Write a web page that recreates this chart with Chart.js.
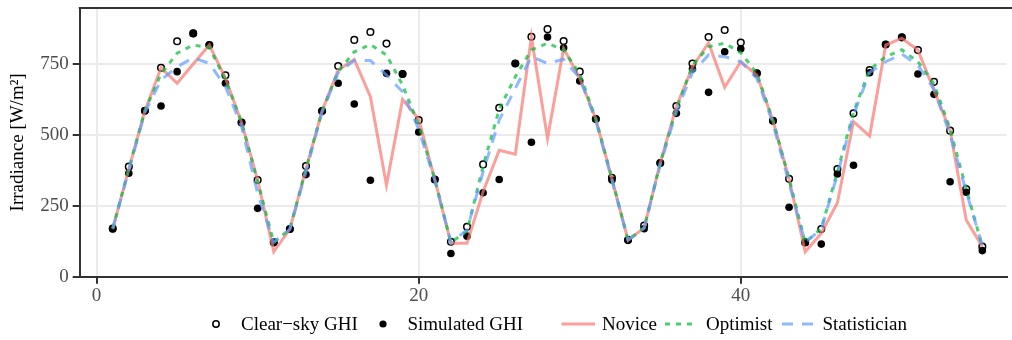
<!DOCTYPE html>
<html>
<head>
<meta charset="utf-8">
<script src="https://cdn.jsdelivr.net/npm/chart.js@4.4.1/dist/chart.umd.min.js"></script>
<style>
  html, body { margin: 0; padding: 0; background: #fff; overflow: hidden; }
  #wrap { position: relative; width: 1012px; height: 340px; }
  #chart { position: absolute; left: 0; top: 0; }
  .leg { position: absolute; font-family: "Liberation Serif", "Times New Roman", serif; font-size: 19px; color: #000; line-height: 22px; white-space: nowrap; }
  .key { position: absolute; }
</style>
</head>
<body>
<div id="wrap">
  <canvas id="chart" width="1012" height="340"></canvas>
  <svg class="key" style="left:210px;top:318px" width="12" height="12"><circle cx="6" cy="6" r="3.2" fill="none" stroke="#000" stroke-width="1.5"/></svg>
  <div class="leg" style="left:241px;top:313px">Clear−sky GHI</div>
  <svg class="key" style="left:377px;top:318px" width="12" height="12"><circle cx="6" cy="6" r="3.6" fill="#000"/></svg>
  <div class="leg" style="left:407.5px;top:313px">Simulated GHI</div>
  <svg class="key" style="left:561px;top:318px" width="36" height="12"><line x1="0.5" y1="6" x2="34" y2="6" stroke="rgba(248,118,109,0.7)" stroke-width="3"/></svg>
  <div class="leg" style="left:602px;top:313px">Novice</div>
  <svg class="key" style="left:665px;top:318px" width="36" height="12"><line x1="0" y1="6" x2="33" y2="6" stroke="rgba(0,186,56,0.7)" stroke-width="3" stroke-dasharray="5,6"/></svg>
  <div class="leg" style="left:706px;top:313px">Optimist</div>
  <svg class="key" style="left:781.5px;top:318px" width="36" height="12"><line x1="0" y1="6" x2="32" y2="6" stroke="rgba(97,156,255,0.7)" stroke-width="3" stroke-dasharray="11,9"/></svg>
  <div class="leg" style="left:822.5px;top:313px">Statistician</div>
</div>
<script>
// ---- data ----
const steps = [1,2,3,4,5,6,7,8,9,10,11,12,13,14,15,16,17,18,19,20,21,22,23,24,25,26,27,28,29,30,31,32,33,34,35,36,37,38,39,40,41,42,43,44,45,46,47,48,49,50,51,52,53,54,55];
const clearSky = [170,388,585,737,830,858,817,710,544,341,121,
                  168,390,584,743,835,863,822,715,552,343,123,
                  176,396,596,752,846,873,831,723,556,349,129,
                  180,401,602,752,845,870,826,717,550,345,121,
                  168,380,576,729,819,844,799,687,515,309,106];
const simulated = [168,365,585,602,723,858,817,682,544,241,121,
                   168,360,584,682,609,340,717,715,510,343,82,
                   143,296,343,752,474,845,807,690,556,341,129,
                   169,401,576,732,650,793,804,717,550,245,121,
                   115,362,393,719,819,844,715,643,335,298,92];
const novice = [168,380,585,737,682,750,817,700,544,341,88,
                168,380,584,729,766,635,323,625,556,343,118,
                118,300,446,432,845,488,805,700,556,345,129,
                172,401,600,740,825,668,758,711,550,345,88,
                153,261,547,496,817,841,799,658,515,200,106];
const optimist = [170,380,585,715,788,817,808,695,545,335,121,
                  168,380,584,723,793,819,782,676,535,343,121,
                  160,390,590,705,800,823,800,715,556,345,129,
                  172,401,590,745,811,823,790,717,550,345,121,
                  170,370,580,730,776,800,758,680,520,310,106];
const statistician = [170,375,580,693,740,772,752,670,530,294,121,
                      168,370,580,720,762,762,711,652,520,340,121,
                      165,370,552,664,776,752,767,700,550,340,129,
                      172,395,580,720,782,776,758,700,540,330,121,
                      168,360,570,720,758,785,746,660,500,300,110];
const xTicks = [0, 20, 40];
const yTicks = [0, 250, 500, 750];
const yTitle = 'Irradiance [W/m²]';

// ---- chart ----
const pts = arr => steps.map((s, i) => ({ x: s, y: arr[i] }));
const serif = '"Liberation Serif", "Times New Roman", serif';

const topBorder = {
  id: 'topBorder',
  afterDatasetsDraw(chart) {
    const { ctx, chartArea } = chart;
    ctx.save();
    ctx.strokeStyle = '#333333';
    ctx.lineWidth = 2;
    ctx.beginPath();
    ctx.moveTo(chartArea.left - 1, chartArea.top);
    ctx.lineTo(chart.width, chartArea.top);
    ctx.stroke();
    ctx.restore();
  }
};

new Chart(document.getElementById('chart'), {
  type: 'scatter',
  data: {
    datasets: [
      { label: 'Clear−sky GHI', data: pts(clearSky), showLine: false, pointRadius: 3.3, pointBorderWidth: 1.5,
        pointBackgroundColor: 'rgba(0,0,0,0)', pointBorderColor: '#000', order: 5 },
      { label: 'Simulated GHI', data: pts(simulated), showLine: false, pointRadius: 3.8, pointBorderWidth: 0,
        pointBackgroundColor: '#000', pointBorderColor: '#000', order: 4 },
      { label: 'Novice', data: pts(novice), showLine: true, pointRadius: 0, borderWidth: 3,
        borderColor: 'rgba(248,118,109,0.7)', fill: false, tension: 0, order: 3 },
      { label: 'Optimist', data: pts(optimist), showLine: true, pointRadius: 0, borderWidth: 3,
        borderColor: 'rgba(0,186,56,0.7)', borderDash: [5, 6], fill: false, tension: 0, order: 2 },
      { label: 'Statistician', data: pts(statistician), showLine: true, pointRadius: 0, borderWidth: 3,
        borderColor: 'rgba(97,156,255,0.7)', borderDash: [11, 9], fill: false, tension: 0, order: 1 }
    ]
  },
  options: {
    responsive: false,
    devicePixelRatio: 1,
    animation: false,
    events: [],
    layout: { padding: { top: 8, left: 0, right: -6, bottom: 33.3 } },
    plugins: { legend: { display: false }, tooltip: { enabled: false } },
    scales: {
      x: {
        type: 'linear', min: -1.05, max: 56.5,
        afterBuildTicks: s => { s.ticks = xTicks.map(v => ({ value: v })); },
        afterFit: s => { s.height = 30; s.paddingLeft = 0; s.paddingRight = 0; },
        ticks: { font: { family: serif, size: 19 }, color: '#4d4d4d', padding: 1, maxRotation: 0, autoSkip: false },
        grid: { color: '#ebebeb', lineWidth: 2, tickColor: '#333333', tickLength: 7, tickWidth: 2 },
        border: { color: '#333333', width: 2 }
      },
      y: {
        min: 0, max: 947.5,
        afterBuildTicks: s => { s.ticks = yTicks.map(v => ({ value: v })); },
        afterFit: s => { s.width = 79.7; s.paddingTop = 0; s.paddingBottom = 0; },
        ticks: { font: { family: serif, size: 19 }, color: '#4d4d4d', padding: 4, autoSkip: false },
        grid: { color: '#ebebeb', lineWidth: 2, tickColor: '#333333', tickLength: 7, tickWidth: 2 },
        border: { color: '#333333', width: 2 },
        title: { display: true, text: yTitle, color: '#000', font: { family: serif, size: 19 }, padding: { top: 7, bottom: 0 } }
      }
    }
  },
  plugins: [topBorder]
});
</script>
</body>
</html>
